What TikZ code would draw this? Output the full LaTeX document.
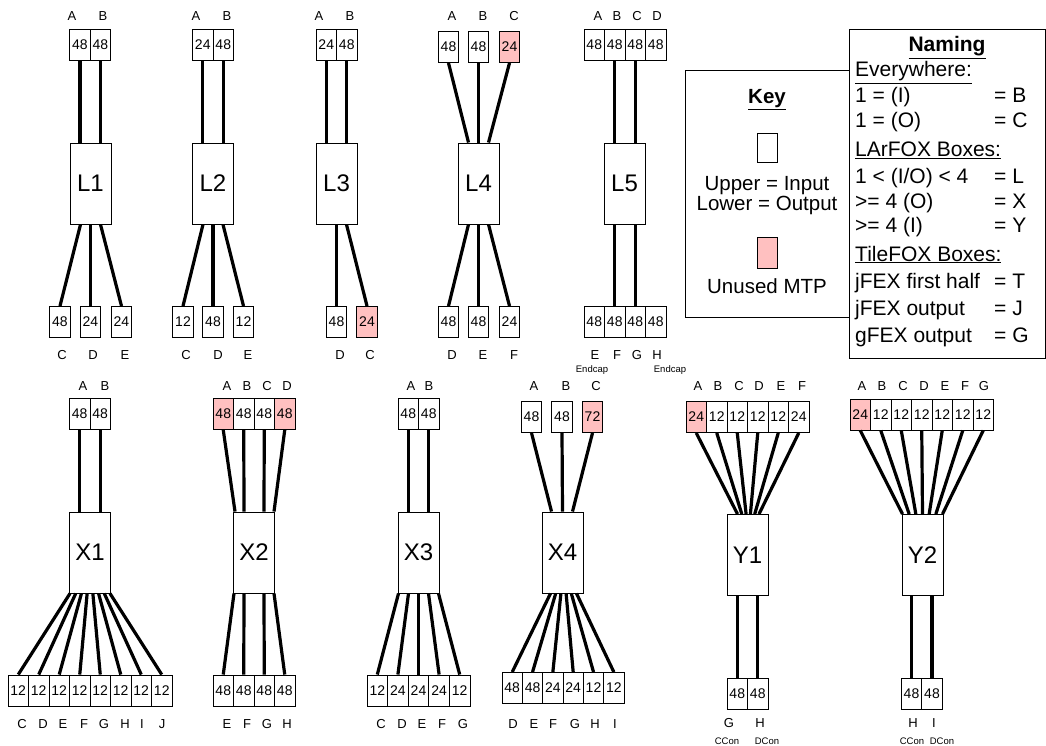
\documentclass[tikz,border=0pt]{standalone}
\usepackage{fontspec}
\setmainfont{Liberation Sans}
\usetikzlibrary{calc}
\definecolor{mtppink}{RGB}{255,192,192}

\begin{document}
\begin{tikzpicture}[
  x=1pt, y=-1pt,
  port/.style={
    draw,
    line width=0.9pt,
    minimum width=20.5,
    minimum height=31,
    inner sep=0pt,
    font=\fontsize{14}{16}\selectfont,
  },
  unused/.style={port, fill=mtppink},
  fox/.style={
    draw,
    line width=0.9pt,
    minimum width=41,
    minimum height=81,
    inner sep=0pt,
    font=\fontsize{24}{28}\selectfont,
  },
  frame/.style={draw, line width=1pt, inner sep=0pt},
  tag/.style={inner sep=0pt, font=\fontsize{13}{15}\selectfont},
  tiny/.style={inner sep=0pt, anchor=base, font=\fontsize{9.5}{11}\selectfont},
  keytxt/.style={inner sep=0pt, anchor=base, font=\fontsize{20.5}{24}\selectfont},
  entry/.style={inner sep=0pt, anchor=base west, font=\fontsize{21}{24}\selectfont},
  cable/.style={line width=3.2pt},
]
  \useasboundingbox (0,0) rectangle (1046,746);

  % Top row: LArFOX boxes L1..L5
  \node[fox] (L1) at (90.5,183.5) {L1};
  \node[port] (L1a) at (80,45) {48};
  \node[port] (L1b) at (100.5,45) {48};
  \node[port] (L1c) at (60,322) {48};
  \node[port] (L1d) at (90.5,322) {24};
  \node[port] (L1e) at (121.5,322) {24};
  \foreach \lt/\x in {A/72,B/103} \node[tag] (L1\lt-lbl) at (\x,16) {\lt};
  \foreach \lt/\x in {C/62,D/93,E/125} \node[tag] (L1\lt-lbl) at (\x,355) {\lt};
  \foreach \p in {L1a,L1b} \draw[cable] (\p.south) -- (\p.south |- L1.north);
  \foreach \p/\d in {L1c/-10,L1d/0,L1e/10} \draw[cable] ($(L1.south)+(\d,0)$) -- (\p.north);

  \node[fox] (L2) at (213,183.5) {L2};
  \node[port] (L2a) at (202.75,45) {24};
  \node[port] (L2b) at (223.25,45) {48};
  \node[port] (L2c) at (183,322) {12};
  \node[port] (L2d) at (213,322) {48};
  \node[port] (L2e) at (243.5,322) {12};
  \foreach \lt/\x in {A/196,B/227} \node[tag] (L2\lt-lbl) at (\x,16) {\lt};
  \foreach \lt/\x in {C/186,D/218,E/248} \node[tag] (L2\lt-lbl) at (\x,355) {\lt};
  \foreach \p in {L2a,L2b} \draw[cable] (\p.south) -- (\p.south |- L2.north);
  \foreach \p/\d in {L2c/-10,L2d/0,L2e/10} \draw[cable] ($(L2.south)+(\d,0)$) -- (\p.north);

  \node[fox] (L3) at (336.5,183.5) {L3};
  \node[port] (L3a) at (326.25,45) {24};
  \node[port] (L3b) at (346.75,45) {48};
  \node[port] (L3d) at (336.5,322) {48};
  \node[unused] (L3c) at (367,322) {24};
  \foreach \lt/\x in {A/319,B/350} \node[tag] (L3\lt-lbl) at (\x,16) {\lt};
  \foreach \lt/\x in {D/340,C/370} \node[tag] (L3\lt-lbl) at (\x,355) {\lt};
  \foreach \p in {L3a,L3b} \draw[cable] (\p.south) -- (\p.south |- L3.north);
  \foreach \p/\d in {L3d/0,L3c/10} \draw[cable] ($(L3.south)+(\d,0)$) -- (\p.north);

  \node[fox] (L4) at (478.5,183.5) {L4};
  \node[port] (L4a) at (448.5,47) {48};
  \node[port] (L4b) at (478.5,47) {48};
  \node[unused] (L4c) at (509.5,47) {24};
  \node[port] (L4d) at (448.5,322) {48};
  \node[port] (L4e) at (478.5,322) {48};
  \node[port] (L4f) at (509.5,322) {24};
  \foreach \lt/\x in {A/452,B/483,C/514} \node[tag] (L4\lt-lbl) at (\x,16) {\lt};
  \foreach \lt/\x in {D/452,E/483,F/514} \node[tag] (L4\lt-lbl) at (\x,355) {\lt};
  \foreach \p/\d in {L4a/-10,L4b/0,L4c/10} \draw[cable] (\p.south) -- ($(L4.north)+(\d,0)$);
  \foreach \p/\d in {L4d/-10,L4e/0,L4f/10} \draw[cable] ($(L4.south)+(\d,0)$) -- (\p.north);

  \node[fox] (L5) at (624.5,183.5) {L5};
  \foreach \n [count=\i from 0] in {a,b,c,d} \node[port] (L5\n) at (594.25+20.5*\i,45) {48};
  \foreach \n [count=\i from 0] in {e,f,g,h} \node[port] (L5\n) at (594.25+20.5*\i,322) {48};
  \foreach \lt/\x in {A/598,B/617,C/637,D/657} \node[tag] (L5\lt-lbl) at (\x,16) {\lt};
  \foreach \lt/\x in {E/595,F/617,G/637,H/657} \node[tag] (L5\lt-lbl) at (\x,355) {\lt};
  \node[tiny] (L5e-note) at (592,372) {Endcap};
  \node[tiny] (L5h-note) at (670,372) {Endcap};
  \foreach \p in {L5b,L5c} \draw[cable] (\p.south) -- (\p.south |- L5.north);
  \foreach \p in {L5f,L5g} \draw[cable] (\p.north |- L5.south) -- (\p.north);

  % Key and naming panels
  \node[frame, minimum width=164, minimum height=246] (key) at (767,194) {};
  \node[frame, minimum width=196, minimum height=328] (naming) at (947,194) {};
  \node[keytxt] (key-title) at (767,104) {\textbf{\underline{Key}}};
  \node[port, minimum width=20, minimum height=29] (key-io) at (767,147.5) {};
  \node[keytxt] (key-up) at (767,190) {Upper = Input};
  \node[keytxt] (key-low) at (767,211) {Lower = Output};
  \node[unused, minimum width=20] (key-mtp) at (767,252.5) {};
  \node[keytxt] (key-mtp-lbl) at (767,293) {Unused MTP};

  \node[entry, anchor=base] (nm-title) at (947,52) {\textbf{\underline{Naming}}};
  \node[entry] (nm-every) at (855,77) {\underline{Everywhere:}};
  \node[entry] (nm-b) at (855,103) {1 = (I)};
  \node[entry] (nm-c) at (855,128) {1 = (O)};
  \node[entry] (nm-larfox) at (855,157) {\underline{LArFOX Boxes:}};
  \node[entry] (nm-l) at (855,183) {1 < (I/O) < 4};
  \node[entry] (nm-x) at (855,208) {>= 4 (O)};
  \node[entry] (nm-y) at (855,233) {>= 4 (I)};
  \node[entry] (nm-tilefox) at (855,261) {\underline{TileFOX Boxes:}};
  \node[entry] (nm-t) at (855,288) {jFEX first half};
  \node[entry] (nm-j) at (855,315) {jFEX output};
  \node[entry] (nm-g) at (855,342) {gFEX output};
  \foreach \y/\r in {103/B,128/C,183/L,208/X,233/Y,288/T,315/J,342/G}
    \node[entry] (nm-\r-eq) at (994,\y) {= \r};

  % Bottom row: X and Y boxes
  \node[fox] (X1) at (90,552.5) {X1};
  \node[port] (X1a) at (79.75,414) {48};
  \node[port] (X1b) at (100.25,414) {48};
  \foreach \n [count=\i from 0] in {c,d,e,f,g,h,i,j} \node[port] (X1\n) at (18.25+20.5*\i,690.5) {12};
  \foreach \lt/\x in {A/83,B/105} \node[tag] (X1\lt-lbl) at (\x,386) {\lt};
  \foreach \lt/\x in {C/22,D/43,E/63,F/84,G/104,H/125,I/142,J/162} \node[tag] (X1\lt-lbl) at (\x,724) {\lt};
  \foreach \p in {X1a,X1b} \draw[cable] (\p.south) -- (\p.south |- X1.north);
  \foreach \n [count=\i from 0] in {c,d,e,f,g,h,i,j} \draw[cable] ($(X1.south)+(-20+5.714*\i,0)$) -- (X1\n.north);

  \node[fox] (X2) at (254,552.5) {X2};
  \node[unused] (X2a) at (223.25,414) {48};
  \node[port] (X2b) at (243.75,414) {48};
  \node[port] (X2c) at (264.25,414) {48};
  \node[unused] (X2d) at (284.75,414) {48};
  \foreach \n [count=\i from 0] in {e,f,g,h} \node[port] (X2\n) at (223.25+20.5*\i,690.5) {48};
  \foreach \lt/\x in {A/227,B/247,C/267,D/287} \node[tag] (X2\lt-lbl) at (\x,386) {\lt};
  \foreach \lt/\x in {E/227,F/247,G/267,H/287} \node[tag] (X2\lt-lbl) at (\x,724) {\lt};
  \foreach \p/\d in {X2a/-19,X2b/-10,X2c/10,X2d/20} \draw[cable] (\p.south) -- ($(X2.north)+(\d,0)$);
  \foreach \p/\d in {X2e/-20,X2f/-10,X2g/10,X2h/20} \draw[cable] ($(X2.south)+(\d,0)$) -- (\p.north);

  \node[fox] (X3) at (418.5,552.5) {X3};
  \node[port] (X3a) at (408.25,414) {48};
  \node[port] (X3b) at (428.75,414) {48};
  \foreach \n/\v [count=\i from 0] in {c/12,d/24,e/24,f/24,g/12} \node[port, minimum width=20.6] (X3\n) at (377.3+20.6*\i,690.5) {\v};
  \foreach \lt/\x in {A/411,B/429} \node[tag] (X3\lt-lbl) at (\x,386) {\lt};
  \foreach \lt/\x in {C/381,D/402,E/422,F/442,G/463} \node[tag] (X3\lt-lbl) at (\x,724) {\lt};
  \foreach \p in {X3a,X3b} \draw[cable] (\p.south) -- (\p.south |- X3.north);
  \foreach \n [count=\i from 0] in {c,d,e,f,g} \draw[cable] ($(X3.south)+(-20+10*\i,0)$) -- (X3\n.north);

  \node[fox] (X4) at (562.5,552.5) {X4};
  \node[port] (X4a) at (531.5,417) {48};
  \node[port] (X4b) at (562,417) {48};
  \node[unused] (X4c) at (592.5,417) {72};
  \foreach \n/\v [count=\i from 0] in {d/48,e/48,f/24,g/24,h/12,i/12} \node[port, minimum width=20.33] (X4\n) at (512.2+20.33*\i,688) {\v};
  \foreach \lt/\x in {A/534,B/566,C/596} \node[tag] (X4\lt-lbl) at (\x,386) {\lt};
  \foreach \lt/\x in {D/513,E/534,F/553,G/575,H/595,I/615} \node[tag] (X4\lt-lbl) at (\x,724) {\lt};
  \foreach \p/\d in {X4a/-11,X4b/0,X4c/10} \draw[cable] (\p.south) -- ($(X4.north)+(\d,0)$);
  \foreach \n [count=\i from 0] in {d,e,f,g,h,i} \draw[cable] ($(X4.south)+(-12+5.2*\i,0)$) -- (X4\n.north);

  \node[fox] (Y1) at (747.5,555) {Y1};
  \foreach \n/\f/\v [count=\i from 0] in {a/mtppink/24,b/white/12,c/white/12,d/white/12,e/white/12,f/white/24}
    \node[port, fill=\f] (Y1\n) at (696.25+20.5*\i,417) {\v};
  \node[port] (Y1g) at (737.25,693.5) {48};
  \node[port] (Y1h) at (757.75,693.5) {48};
  \foreach \lt/\x in {A/698,B/718,C/739,D/759,E/781,F/802} \node[tag] (Y1\lt-lbl) at (\x,386) {\lt};
  \foreach \lt/\x in {G/729,H/760} \node[tag] (Y1\lt-lbl) at (\x,723) {\lt};
  \node[tiny] (Y1g-note) at (727,744.5) {CCon};
  \node[tiny] (Y1h-note) at (767,744.5) {DCon};
  \foreach \n [count=\i from 0] in {a,b,c,d,e,f} \draw[cable] (Y1\n.south) -- ($(Y1.north)+(-10+4.3*\i,0)$);
  \foreach \p in {Y1g,Y1h} \draw[cable] (\p.north |- Y1.south) -- (\p.north);

  \node[fox] (Y2) at (922.5,555) {Y2};
  \foreach \n/\f/\v [count=\i from 0] in {a/mtppink/24,b/white/12,c/white/12,d/white/12,e/white/12,f/white/12,g/white/12}
    \node[port, fill=\f] (Y2\n) at (860.25+20.5*\i,414.5) {\v};
  \node[port] (Y2h) at (911.5,693.5) {48};
  \node[port] (Y2i) at (932,693.5) {48};
  \foreach \lt/\x in {A/862,B/882,C/903,D/924,E/945,F/965,G/984} \node[tag] (Y2\lt-lbl) at (\x,386) {\lt};
  \foreach \lt/\x in {H/913,I/934} \node[tag] (Y2\lt-lbl) at (\x,723) {\lt};
  \node[tiny] (Y2h-note) at (912,744.5) {CCon};
  \node[tiny] (Y2i-note) at (942,744.5) {DCon};
  \foreach \n [count=\i from 0] in {a,b,c,d,e,f,g} \draw[cable] (Y2\n.south) -- ($(Y2.north)+(-20+6.667*\i,0)$);
  \foreach \p in {Y2h,Y2i} \draw[cable] (\p.north |- Y2.south) -- (\p.north);
\end{tikzpicture}
\end{document}
